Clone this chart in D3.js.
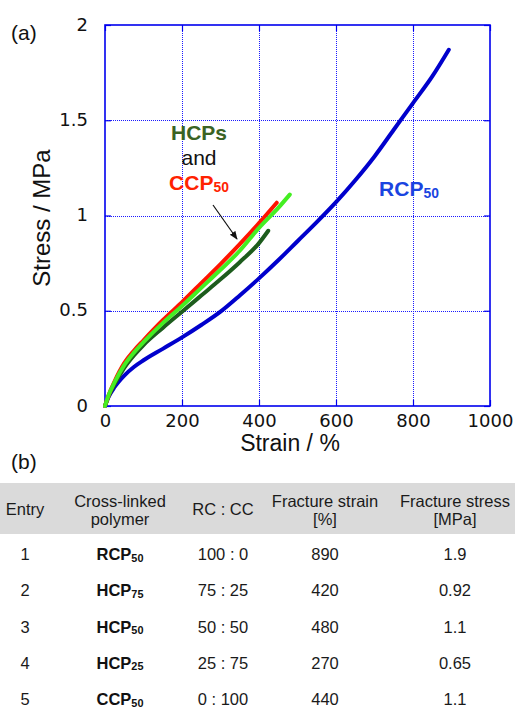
<!DOCTYPE html>
<html><head><meta charset="utf-8">
<script src="https://cdn.jsdelivr.net/npm/d3@7"></script>
<style>body{margin:0;background:#fff}svg{display:block}</style>
</head><body><svg id="c" width="515" height="709"></svg>
<script>
// ---- chart data ----
const xTicks = [0, 200, 400, 600, 800, 1000];
const xTickLabels = ["0", "200", "400", "600", "800", "1000"];
const yTicks = [0, 0.5, 1, 1.5, 2];
const yTickLabels = ["0", "0.5", "1", "1.5", "2"];

const rcp50Strain = [0, 10, 25, 50, 75, 100, 150, 200, 250, 300, 350, 400, 450, 500, 550, 600, 650, 700, 750, 800, 850, 893];
const rcp50Stress = [0, 0.05, 0.1, 0.16, 0.205, 0.24, 0.3, 0.36, 0.425, 0.495, 0.58, 0.67, 0.765, 0.865, 0.965, 1.07, 1.185, 1.31, 1.45, 1.59, 1.73, 1.87];

const hcp75Strain = [0, 10, 25, 50, 75, 100, 150, 200, 250, 300, 350, 400, 424];
const hcp75Stress = [0, 0.055, 0.115, 0.2, 0.265, 0.32, 0.41, 0.495, 0.58, 0.665, 0.755, 0.855, 0.92];

const ccp50Strain = [0, 10, 25, 50, 75, 100, 150, 200, 250, 300, 350, 400, 446];
const ccp50Stress = [0, 0.06, 0.13, 0.225, 0.29, 0.345, 0.45, 0.545, 0.645, 0.745, 0.85, 0.96, 1.067];

const hcp50Strain = [0, 10, 25, 50, 75, 100, 150, 200, 250, 300, 350, 400, 450, 480];
const hcp50Stress = [0, 0.06, 0.125, 0.215, 0.28, 0.335, 0.435, 0.525, 0.62, 0.715, 0.815, 0.935, 1.04, 1.11];

// ---- table data ----
const tableHeaders = [["Entry"], ["Cross-linked", "polymer"], ["RC : CC"], ["Fracture strain", "[%]"], ["Fracture stress", "[MPa]"]];
const entries = ["1", "2", "3", "4", "5"];
const polymerNames = ["RCP", "HCP", "HCP", "HCP", "CCP"];
const polymerSubs = ["50", "75", "50", "25", "50"];
const ratios = ["100 : 0", "75 : 25", "50 : 50", "25 : 75", "0 : 100"];
const fractureStrain = ["890", "420", "480", "270", "440"];
const fractureStress = ["1.9", "0.92", "1.1", "0.65", "1.1"];

const svg = d3.select("#c");
const L = 105, R = 490, T = 25, B = 406;
const x = d3.scaleLinear().domain([0, 1000]).range([L, R]);
const y = d3.scaleLinear().domain([0, 2]).range([B, T]);
const blue = "#0000ee";
const gridBlue = "#1a1aff";

// gridlines
const grid = svg.append("g").attr("shape-rendering", "crispEdges");
grid.selectAll("line.gx").data(xTicks.slice(1, -1)).enter().append("line")
  .attr("x1", d => Math.round(x(d)) + 0.5).attr("x2", d => Math.round(x(d)) + 0.5).attr("y1", T).attr("y2", B)
  .attr("stroke", gridBlue).attr("stroke-width", 1).attr("stroke-dasharray", "1,1");
grid.selectAll("line.gy").data(yTicks.slice(1, -1)).enter().append("line")
  .attr("y1", d => Math.round(y(d)) + 0.5).attr("y2", d => Math.round(y(d)) + 0.5).attr("x1", L).attr("x2", R)
  .attr("stroke", gridBlue).attr("stroke-width", 1).attr("stroke-dasharray", "1,1");

// axes with inward ticks
const tickFont = "'DejaVu Sans', sans-serif";
const ax = svg.append("g").attr("transform", `translate(0,${B})`)
  .call(d3.axisBottom(x).tickValues(xTicks).tickFormat((d, i) => xTickLabels[i]).tickSizeInner(-6).tickSizeOuter(0).tickPadding(8));
const ay = svg.append("g").attr("transform", `translate(${L},0)`)
  .call(d3.axisLeft(y).tickValues(yTicks).tickFormat((d, i) => yTickLabels[i]).tickSizeInner(-6).tickSizeOuter(0).tickPadding(17));
const at = svg.append("g").attr("transform", `translate(0,${T})`)
  .call(d3.axisTop(x).tickValues(xTicks).tickFormat("").tickSizeInner(-6).tickSizeOuter(0));
const ar = svg.append("g").attr("transform", `translate(${R},0)`)
  .call(d3.axisRight(y).tickValues(yTicks).tickFormat("").tickSizeInner(-6).tickSizeOuter(0));
[ax, ay, at, ar].forEach(g => {
  g.select(".domain").remove();
  g.selectAll(".tick line").attr("stroke", blue).attr("stroke-width", 1.2);
  g.selectAll(".tick text").attr("fill", "#111").style("font-family", tickFont).style("font-size", "18px");
});
ay.selectAll(".tick text").attr("dy", "0.28em");

// frame
svg.append("rect").attr("x", L).attr("y", T).attr("width", R - L).attr("height", B - T)
  .attr("fill", "none").attr("stroke", blue).attr("stroke-width", 1.6);

// curves
const line = d3.line().x(d => x(d[0])).y(d => y(d[1])).curve(d3.curveMonotoneX);
const series = [
  {sx: rcp50Strain, sy: rcp50Stress, c: "#0000cc"},
  {sx: hcp75Strain, sy: hcp75Stress, c: "#1d5c1d"},
  {sx: ccp50Strain, sy: ccp50Stress, c: "#ff1400"},
  {sx: hcp50Strain, sy: hcp50Stress, c: "#44ee22"}
];
series.forEach(s => {
  svg.append("path").datum(s.sx.map((v, i) => [v, s.sy[i]]))
    .attr("d", line).attr("fill", "none").attr("stroke", s.c)
    .attr("stroke-width", 4).attr("stroke-linecap", "round").attr("stroke-linejoin", "round");
});

// axis titles
const sans = "'Liberation Sans', Arial, Helvetica, sans-serif";
svg.append("text").attr("x", 290).attr("y", 451).attr("text-anchor", "middle")
  .style("font-family", sans).style("font-size", "23px").attr("fill", "#111").text("Strain / %");
svg.append("text").attr("transform", "translate(50,218) rotate(-90)").attr("text-anchor", "middle")
  .style("font-family", sans).style("font-size", "24px").attr("fill", "#111").text("Stress / MPa");

// panel labels
svg.append("text").attr("x", 11).attr("y", 40).style("font-family", sans).style("font-size", "21px").attr("fill", "#111").text("(a)");
svg.append("text").attr("x", 11).attr("y", 469).style("font-family", sans).style("font-size", "21px").attr("fill", "#111").text("(b)");

// annotations
function subText(parent, xx, yy, main, sub, color, size, anchor) {
  const t = parent.append("text").attr("x", xx).attr("y", yy).attr("text-anchor", anchor || "middle")
    .style("font-family", sans).style("font-weight", "bold").style("font-size", size + "px").attr("fill", color);
  t.append("tspan").text(main);
  t.append("tspan").attr("dy", size * 0.1).style("font-size", (size * 0.66) + "px").text(sub);
  return t;
}
svg.append("text").attr("x", 199).attr("y", 140).attr("text-anchor", "middle")
  .style("font-family", sans).style("font-weight", "bold").style("font-size", "21px").attr("fill", "#3a6324").text("HCPs");
svg.append("text").attr("x", 199).attr("y", 165).attr("text-anchor", "middle")
  .style("font-family", sans).style("font-size", "21px").attr("fill", "#111").text("and");
subText(svg, 199, 190, "CCP", "50", "#ff2200", 21);
subText(svg, 409, 196, "RCP", "50", "#1a44e0", 21);

// arrow
svg.append("defs").append("marker").attr("id", "ah").attr("viewBox", "0 0 10 10").attr("refX", 9).attr("refY", 5)
  .attr("markerWidth", 7).attr("markerHeight", 7).attr("orient", "auto")
  .append("path").attr("d", "M0,1 L10,5 L0,9 Z").attr("fill", "#111");
svg.append("line").attr("x1", 213).attr("y1", 205).attr("x2", 237).attr("y2", 239)
  .attr("stroke", "#111").attr("stroke-width", 1.2).attr("marker-end", "url(#ah)");

// table
const colX = [25, 120, 223, 325, 455];
const tbl = svg.append("g");
tbl.append("rect").attr("x", 0).attr("y", 483).attr("width", 515).attr("height", 51).attr("fill", "#dadada");
tableHeaders.forEach((h, i) => {
  const ys = h.length === 1 ? [515] : [507, 525];
  h.forEach((s, j) => {
    tbl.append("text").attr("x", colX[i]).attr("y", ys[j]).attr("text-anchor", "middle")
      .style("font-family", sans).style("font-size", "16.5px").attr("fill", "#1a1a1a").text(s);
  });
});
const rowY = d3.scalePoint().domain(entries).range([560, 705]);
entries.forEach((e, i) => {
  const yy = rowY(e);
  const cell = (cx, s) => tbl.append("text").attr("x", cx).attr("y", yy).attr("text-anchor", "middle")
    .style("font-family", sans).style("font-size", "16.5px").attr("fill", "#1a1a1a").text(s);
  cell(colX[0], e);
  subText(tbl, colX[1], yy, polymerNames[i], polymerSubs[i], "#111", 16.5);
  cell(colX[2], ratios[i]);
  cell(colX[3], fractureStrain[i]);
  cell(colX[4], fractureStress[i]);
});
</script>
</body></html>
